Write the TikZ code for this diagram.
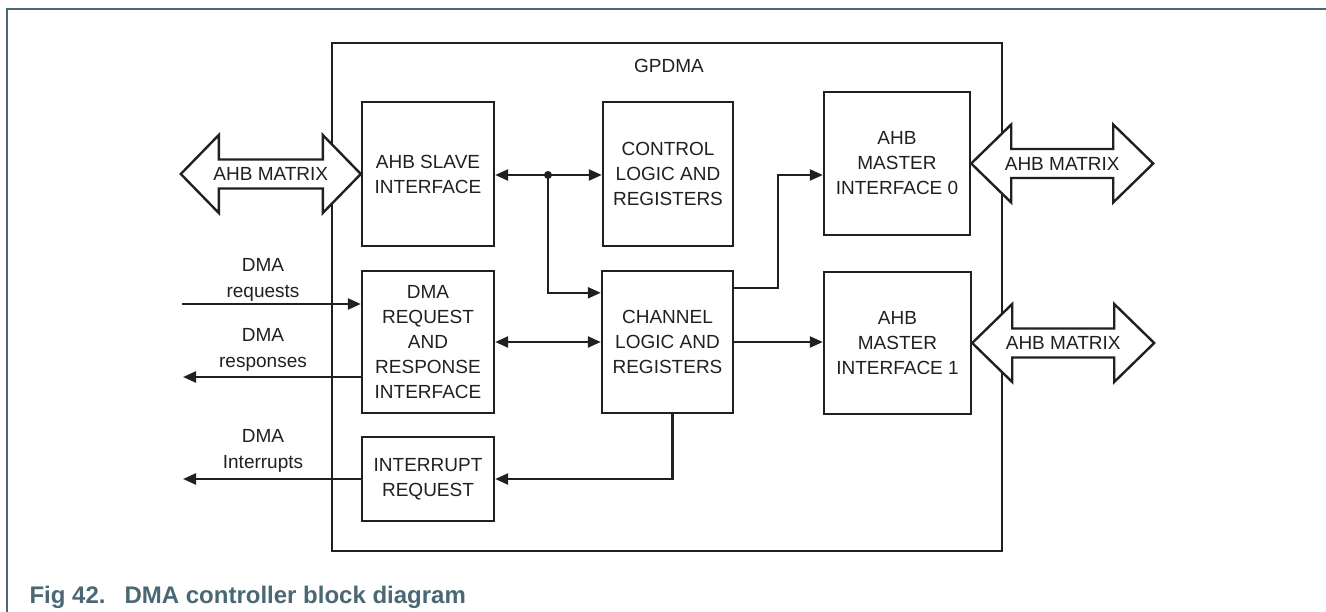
\documentclass[tikz,border=0pt]{standalone}
\usepackage{fontspec}
\setmainfont{Liberation Sans}
\usetikzlibrary{arrows.meta}
\definecolor{ink}{HTML}{231F20}
\definecolor{nxpgray}{HTML}{4A6874}

\begin{document}
\begin{tikzpicture}[x=1pt,y=-1pt,line width=2.4pt,color=ink,>={Triangle[length=13pt,width=11pt]},
  blk/.style={draw,inner sep=0pt,align=center,font=\fontsize{19pt}{25pt}\selectfont},
  lbl/.style={align=center,font=\fontsize{19pt}{26pt}\selectfont},
  bus/.style={draw,fill=white,line join=miter}]
  \useasboundingbox (0,0) rectangle (1326,612);
  % marco
  \draw[nxpgray,line width=1.5pt] (7,612) -- (7,9) -- (1326,9);
  \node[anchor=base west,text=nxpgray,font=\fontsize{24pt}{28pt}\selectfont\bfseries] (caption) at (25,603) {Fig 42.\hspace{19pt}DMA controller block diagram};
  % gpdma
  \node[blk,minimum width=670pt,minimum height=508pt] (gpdma) at (667,297) {};
  \node[lbl] (gpdmalbl) at (669,66) {GPDMA};
  % bloques
  \node[blk,minimum width=132pt,minimum height=144pt] (slave) at (428,174) {AHB SLAVE\\INTERFACE};
  \node[blk,minimum width=130pt,minimum height=144pt] (ctrl) at (668,174) {CONTROL\\LOGIC AND\\REGISTERS};
  \node[blk,minimum width=146pt,minimum height=143pt] (mst0) at (897,163.5) {AHB\\MASTER\\INTERFACE 0};
  \node[blk,minimum width=132pt,minimum height=142pt] (dmareq) at (428,342) {DMA\\REQUEST\\AND\\RESPONSE\\INTERFACE};
  \node[blk,minimum width=131pt,minimum height=142pt] (chan) at (667.5,342) {CHANNEL\\LOGIC AND\\REGISTERS};
  \node[blk,minimum width=147pt,minimum height=142pt] (mst1) at (897.5,343) {AHB\\MASTER\\INTERFACE 1};
  \node[blk,minimum width=132pt,minimum height=84pt] (irq) at (428,479) {INTERRUPT\\REQUEST};
  % buses
  \draw[bus] (slave.west) -- ++(-38,-39) -- ++(0,24.5) -- ++(-104,0) -- ++(0,-24.5) -- ++(-38,39)
    -- ++(38,39) -- ++(0,-24.5) -- ++(104,0) -- ++(0,24.5) -- cycle;
  \foreach \m in {mst0,mst1}
    \draw[bus] (\m.east) -- ++(40,-39) -- ++(0,24.5) -- ++(102,0) -- ++(0,-24.5) -- ++(40,39)
      -- ++(-40,39) -- ++(0,-24.5) -- ++(-102,0) -- ++(0,24.5) -- cycle;
  \node[lbl] (busl) at ([xshift=-90pt]slave.west) {AHB MATRIX};
  \node[lbl] (bus0) at ([xshift=91pt]mst0.east) {AHB MATRIX};
  \node[lbl] (bus1) at ([xshift=91pt]mst1.east) {AHB MATRIX};
  % conexiones internas
  \coordinate (split) at (548,175);
  \draw[<->] (slave.east |- split) -- (ctrl.west |- split);
  \fill (split) circle (4);
  \draw[->] (split) |- ([yshift=-23pt]chan.north west);
  \draw[<->] (dmareq.east) -- (chan.west);
  \coordinate (bend0) at (778,175);
  \draw[->] ([yshift=-18pt]chan.north east) -| (bend0) -- (bend0 -| mst0.west);
  \draw[->] (chan.east) -- (mst1.west |- chan.east);
  \draw[->] ([xshift=5pt]chan.south) |- (irq.east);
  % senales externas
  \coordinate (reqin) at (182,304);
  \coordinate (rspout) at (183,377);
  \coordinate (irqout) at (183,479);
  \draw[->] (reqin) -- (reqin -| dmareq.west);
  \draw[->] (rspout -| dmareq.west) -- (rspout);
  \draw[->] (irq.west) -- (irqout);
  \node[lbl] (reqlbl) at (263,280) {DMA\\requests};
  \node[lbl] (rsplbl) at (263,350) {DMA\\responses};
  \node[lbl] (irqlbl) at (263,451) {DMA\\Interrupts};
\end{tikzpicture}
\end{document}
